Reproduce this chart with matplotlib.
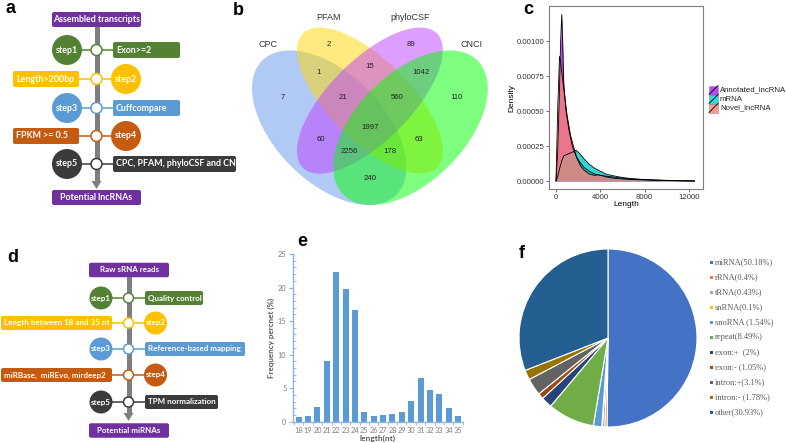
import numpy as np
import matplotlib.pyplot as plt
from matplotlib.patches import Circle, Ellipse, FancyBboxPatch, Polygon, Rectangle

W, H = 786, 443

# ---- a: lncRNA pipeline
lnc_top = 'Assembled transcripts'
lnc_bottom = 'Potential lncRNAs'
lnc_boxes = ['Exon>=2', 'Length>200bp', 'Cuffcompare', 'FPKM >= 0.5',
             'CPC, PFAM, phyloCSF and CNCI']

# ---- d: miRNA pipeline
mir_top = 'Raw sRNA reads'
mir_bottom = 'Potential miRNAs'
mir_boxes = ['Quality control', 'Length between 18 and 35 nt',
             'Reference-based mapping', 'miRBase,  miREvo, mirdeep2',
             'TPM normalization']

step_names = ['step1', 'step2', 'step3', 'step4', 'step5']
step_colors = ['#548235', '#FFC000', '#5B9BD5', '#C55A11', '#3B3B3B']
flow_purple = '#7030A0'

# ---- b: venn
venn_sets = ['CPC', 'PFAM', 'phyloCSF', 'CNCI']
venn_colors = ['#6495ED', '#FFD700', '#BF3EFF', '#00FF00']
venn_counts = ['2', '89', '1', '15', '1042', '7', '21', '560', '110',
               '1997', '60', '63', '2256', '178', '240']
venn_count_xy = [(0.35, 0.775), (0.65, 0.775), (0.31, 0.675), (0.50, 0.694),
                 (0.69, 0.675), (0.18, 0.583), (0.40, 0.583), (0.60, 0.583),
                 (0.82, 0.583), (0.50, 0.472), (0.32, 0.425), (0.68, 0.425),
                 (0.425, 0.384), (0.575, 0.384), (0.50, 0.284)]
venn_label_xy = [(0.124, 0.778), (0.349, 0.878), (0.648, 0.878), (0.873, 0.778)]

# ---- c: length density
dens_names = ['Annotated_lncRNA', 'mRNA', 'Novel_lncRNA']
dens_colors = ['#A020F0', '#00CDCD', '#FA8072']
ann_x = [0, 150, 300, 420, 520, 600, 700, 900, 1200, 1500, 1800, 2100, 2500,
         3000, 3500, 4000, 5000, 6000, 8000, 10000, 12500]
ann_y = [0, 0.0002, 0.0006, 0.00100, 0.00119, 0.00100, 0.00070, 0.00050,
         0.00035, 0.00024, 0.00018, 0.00014, 0.00010, 0.00007, 0.00005,
         0.00004, 0.00003, 0.00002, 0.00001, 0.000005, 0]
mrna_x = [0, 150, 300, 500, 700, 1000, 1300, 1600, 1800, 2100, 2500, 3000,
          3500, 4000, 4500, 5000, 6000, 7000, 8000, 9000, 10000, 12500]
mrna_y = [0, 0.00003, 0.00008, 0.00014, 0.00018, 0.00019, 0.00020, 0.00021,
          0.00022, 0.00020, 0.00016, 0.00012, 0.00009, 0.00007, 0.00005,
          0.00004, 0.000025, 0.000015, 0.00001, 0.000006, 0.000004, 0]
nov_x = [0, 150, 320, 420, 550, 700, 1000, 1300, 1600, 1900, 2200, 2500,
         3000, 3500, 3800, 4100, 4500, 5000, 6000, 7000, 8000, 9000, 10000, 12500]
nov_y = [0, 0.0005, 0.00089, 0.00085, 0.00076, 0.00066, 0.00047, 0.00033,
         0.00024, 0.00016, 0.00011, 0.00008, 0.00005, 0.00004, 0.000045,
         0.00004, 0.00003, 0.000022, 0.000015, 0.00001, 0.000008, 0.000005,
         0.000003, 0]

# ---- e: small RNA length distribution
len_nt = list(range(18, 36))
freq_pct = [0.7, 0.8, 2.2, 9.1, 22.3, 19.8, 16.7, 1.5, 0.8, 1.0, 1.1, 1.5,
            3.1, 6.5, 4.8, 4.2, 2.0, 0.9]

# ---- f: annotation pie
pie_labels = ['miRNA(50.18%)', 'rRNA(0.4%)', 'tRNA(0.43%)', 'snRNA(0.1%)',
              'snoRNA (1.54%)', 'repeat(8.49%)', 'exon:+  (2%)',
              'exon:- (1.05%)', 'intron:+(3.1%)', 'intron:- (1.78%)',
              'other(30.93%)']
pie_values = [50.18, 0.4, 0.43, 0.1, 1.54, 8.49, 2, 1.05, 3.1, 1.78, 30.93]
pie_colors = ['#4472C4', '#ED7D31', '#A5A5A5', '#FFC000', '#5B9BD5', '#70AD47',
              '#264478', '#9E480E', '#636363', '#997300', '#255E91']

fig = plt.figure(figsize=(W / 100, H / 100), dpi=100)


def px_axes(x0, y0, x1, y1, **kw):
    return fig.add_axes([x0 / W, 1 - y1 / H, (x1 - x0) / W, (y1 - y0) / H], **kw)


# overlay in pixel units for the flowcharts, labels and legends
ov = px_axes(0, 0, W, H)
ov.set_xlim(0, W)
ov.set_ylim(H, 0)
ov.axis('off')
ov.patch.set_alpha(0)

FLOW_FONT = 'Lato'


def rbox(x0, x1, yc, h, color, text, fs, center=False):
    ov.add_patch(FancyBboxPatch((x0, yc - h / 2), x1 - x0, h,
                                boxstyle='round,pad=0,rounding_size=2',
                                fc=color, ec='none', zorder=3))
    if center:
        ov.text((x0 + x1) / 2, yc, text, ha='center', va='center', color='white',
                fontsize=fs, fontweight='bold', family=FLOW_FONT, zorder=4)
    else:
        ov.text(x0 + 3, yc, text, ha='left', va='center', color='white',
                fontsize=fs, fontweight='bold', family=FLOW_FONT, zorder=4)


def flow(top, bottom, boxes, lx, top_y, bot_y, tb_x, tb_h, rows, cx, r, sr,
         rx0, rx1, lbox, bh, fs, arrow_end):
    # gray trunk with arrow head
    ov.plot([lx, lx], [top_y, arrow_end], color='#7F7F7F', lw=3.6,
            solid_capstyle='butt', zorder=1)
    ov.add_patch(Polygon([[lx - 5, arrow_end], [lx + 5, arrow_end],
                          [lx, arrow_end + 8]], closed=True, fc='#7F7F7F',
                         ec='none', zorder=1))
    rbox(tb_x[0], tb_x[1], top_y, tb_h, flow_purple, top, fs, center=True)
    rbox(tb_x[0], tb_x[1], bot_y, tb_h, flow_purple, bottom, fs, center=True)
    for i, y in enumerate(rows):
        c = step_colors[i]
        if i % 2 == 0:
            ccx = cx[0]
            ov.plot([ccx, rx0], [y, y], color=c, lw=1.1, zorder=2)
            rbox(rx0, rx1[i], y, bh, c, boxes[i], fs)
        else:
            ccx = cx[1]
            ov.plot([lbox[1], ccx], [y, y], color=c, lw=1.1, zorder=2)
            rbox(lbox[0], lbox[1], y, bh, c, boxes[i], fs)
        ov.add_patch(Circle((ccx, y), r, fc=c, ec='none', zorder=3))
        ov.text(ccx, y, step_names[i], ha='center', va='center', color='white',
                fontsize=fs, fontweight='bold', family=FLOW_FONT, zorder=4)
        ov.add_patch(Circle((lx, y), sr, fc='white', ec=c, lw=1.1, zorder=3))


flow(lnc_top, lnc_bottom, lnc_boxes, lx=96.5, top_y=19.5, bot_y=197.5,
     tb_x=(52, 141), tb_h=15, rows=[50, 79, 108, 136, 164], cx=(67, 126),
     r=15, sr=5.5, rx0=113, rx1=[180, 0, 180, 0, 236], lbox=(13, 79), bh=16,
     fs=6.4, arrow_end=181)
flow(mir_top, mir_bottom, mir_boxes, lx=128.5, top_y=270, bot_y=430.5,
     tb_x=(89, 169), tb_h=14.5, rows=[298, 323, 349, 375, 402],
     cx=(101, 155.5), r=11.5, sr=5, rx0=145, rx1=[203, 0, 245, 0, 218],
     lbox=(1, 112), bh=14, fs=5.8, arrow_end=413)

# ---- b: venn diagram
axb = px_axes(236, 10, 500, 215)
axb.set_xlim(0.0059, 0.980)
axb.set_ylim(0.148, 0.904)
axb.axis('off')
venn_geom = [((0.35, 0.47), 0.7, 0.4, -45), ((0.5, 0.57), 0.7, 0.3, -45),
             ((0.5, 0.57), 0.7, 0.3, 45), ((0.65, 0.47), 0.7, 0.4, 45)]
for (c, w, h, ang), col in zip(venn_geom, venn_colors):
    axb.add_patch(Ellipse(c, w, h, angle=ang, fc=col, ec='none', alpha=0.5))
for t, (x, y) in zip(venn_counts, venn_count_xy):
    axb.text(x, y, t, ha='center', va='center', fontsize=5.6,
             family='Liberation Sans', color='#222222')
for t, (x, y) in zip(venn_sets, venn_label_xy):
    axb.text(x, y, t, ha='center', va='center', fontsize=6.5,
             family='Liberation Sans', color='#333333')

# ---- c: density
axc = px_axes(549, 6, 703, 189)
for xs, ys, col in zip([ann_x, mrna_x, nov_x], [ann_y, mrna_y, nov_y], dens_colors):
    axc.fill_between(xs, ys, color=col, alpha=0.8, lw=0)
    axc.plot(xs, ys, color='black', lw=0.6)
axc.set_xlim(-630, 13260)
axc.set_ylim(-0.000057, 0.00125)
axc.set_xticks([0, 4000, 8000, 12000])
axc.set_yticks([0, 0.00025, 0.0005, 0.00075, 0.001])
axc.set_yticklabels(['0.00000', '0.00025', '0.00050', '0.00075', '0.00100'])
axc.tick_params(labelsize=5.6, length=2, width=0.5, pad=1.5, colors='#333333')
for lab in axc.get_xticklabels() + axc.get_yticklabels():
    lab.set_family('Liberation Sans')
for s in axc.spines.values():
    s.set_color('#7F7F7F')
    s.set_linewidth(0.8)
axc.set_xlabel('Length', fontsize=6, family='Liberation Sans', labelpad=0)
axc.set_ylabel('Density', fontsize=6, family='Liberation Sans', labelpad=1)
for i, (name, col) in enumerate(zip(dens_names, dens_colors)):
    y = 90 + 9 * i
    ov.add_patch(Rectangle((709, y - 4.5), 9, 9, fc=col, alpha=0.8, ec='#7F7F7F', lw=0.4))
    ov.plot([709, 718], [y + 4.5, y - 4.5], color='black', lw=0.6)
    ov.text(720, y, name, ha='left', va='center', fontsize=5.6,
            family='Liberation Sans', color='#222222')

# ---- e: bars
axe = px_axes(293.3, 254, 462.7, 421.7)
axis_blue = '#8DB3E2'
axe.bar(len_nt, freq_pct, width=0.64, color='#5B9BD5')
axe.set_xlim(17.42, 35.47)
axe.set_ylim(0, 25)
axe.set_yticks([0, 5, 10, 15, 20, 25])
axe.set_yticks(np.arange(0, 25, 1), minor=True)
axe.set_xticks(len_nt)
axe.set_xticks(np.arange(17.5, 36, 1), minor=True)
axe.tick_params(axis='x', which='major', length=0, pad=3.5)
axe.tick_params(axis='x', which='minor', length=2, color=axis_blue)
axe.tick_params(axis='y', which='major', length=3, color=axis_blue, pad=2)
axe.tick_params(axis='y', which='minor', length=2, direction='in', color=axis_blue)
axe.tick_params(labelsize=5.3, labelcolor='#7F7F7F')
for s in ['top', 'right']:
    axe.spines[s].set_visible(False)
for s in ['left', 'bottom']:
    axe.spines[s].set_color(axis_blue)
    axe.spines[s].set_linewidth(1)
for lab in axe.get_xticklabels() + axe.get_yticklabels():
    lab.set_family('Lato')
axe.set_ylabel('Frequency percnet (%)', fontsize=5.8, fontweight='bold',
               color='#595959', family='Lato', labelpad=2)
axe.set_xlabel('length(nt)', fontsize=6, fontweight='bold', color='#595959',
               family='Lato', labelpad=1)

# ---- f: pie
axf = px_axes(519, 249, 697, 427)
axf.pie(pie_values, colors=pie_colors, startangle=90, counterclock=False,
        wedgeprops=dict(edgecolor='white', linewidth=0.8))
axf.set_xlim(-1, 1)
axf.set_ylim(-1, 1)
for i, (lab, col) in enumerate(zip(pie_labels, pie_colors)):
    y = 262.3 + 15 * i
    ov.add_patch(Rectangle((709.5, y - 1.5), 3, 3, fc=col, ec='none'))
    ov.text(715, y, lab, ha='left', va='center', fontsize=6,
            family='Liberation Serif', color='#595959')

# ---- panel letters
for t, x, y in [('a', 6, 13), ('b', 233, 15), ('c', 523, 14), ('d', 7, 262),
                ('e', 297, 246), ('f', 519, 258)]:
    ov.text(x, y, t, ha='left', va='baseline', fontsize=13, fontweight='bold',
            family='Liberation Sans')

fig.savefig('out.png', dpi=100)
